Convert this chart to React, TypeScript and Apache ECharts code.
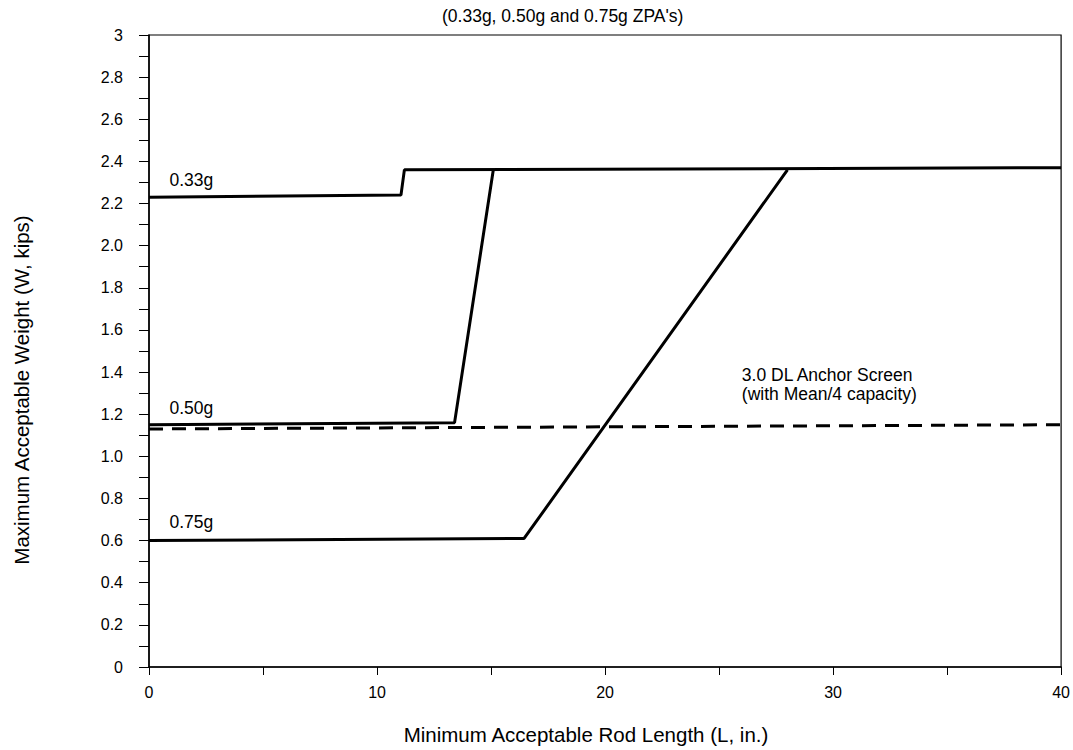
import React, { useEffect, useRef } from "react";
import * as echarts from "echarts";

const title = "(0.33g, 0.50g and 0.75g ZPA's)";
const xName = "Minimum Acceptable Rod Length (L, in.)";
const yName = "Maximum Acceptable Weight (W, kips)";

const x033 = [0, 11.05, 11.2, 40];
const y033 = [2.23, 2.24, 2.36, 2.37];
const x050 = [0, 13.4, 15.1];
const y050 = [1.15, 1.16, 2.36];
const x075 = [0, 16.45, 28.0];
const y075 = [0.6, 0.61, 2.36];
const xAnchor = [0, 40];
const yAnchor = [1.13, 1.15];

const yTickLabels: Record<string, string> = {
  "0": "0", "0.2": "0.2", "0.4": "0.4", "0.6": "0.6", "0.8": "0.8", "1": "1.0",
  "1.2": "1.2", "1.4": "1.4", "1.6": "1.6", "1.8": "1.8", "2": "2.0", "2.2": "2.2",
  "2.4": "2.4", "2.6": "2.6", "2.8": "2.8", "3": "3",
};
const xTickLabels: Record<string, string> = { "0": "0", "10": "10", "20": "20", "30": "30", "40": "40" };

const FONT = "Liberation Sans, Arial, Helvetica, sans-serif";

function pts(xs: number[], ys: number[]) {
  return xs.map((x, i) => [x, ys[i]]);
}

function textMark(x: number, y: number, text: string) {
  return {
    coord: [x, y],
    value: text,
    symbolSize: 0,
    label: {
      show: true,
      position: "right",
      distance: 0,
      formatter: text,
      color: "#000",
      fontFamily: FONT,
      fontSize: 17.5,
      lineHeight: 19,
    },
  };
}

export default function App() {
  const ref = useRef<HTMLDivElement>(null);
  useEffect(() => {
    if (!ref.current) return;
    const chart = echarts.init(ref.current, undefined, { renderer: "svg" });
    const lineStyle = { color: "#000", width: 3, type: "solid" as const };
    chart.setOption({
      animation: false,
      backgroundColor: "#fff",
      grid: { left: 149, right: 10, top: 35, bottom: 83, show: true, borderColor: "#000", borderWidth: 1.2 },
      xAxis: {
        type: "value",
        min: 0,
        max: 40,
        interval: 5,
        axisLine: { show: true, lineStyle: { color: "#000", width: 1.5 } },
        axisTick: { show: true, length: 8, lineStyle: { color: "#000", width: 1 } },
        splitLine: { show: false },
        axisLabel: {
          margin: 17,
          color: "#000",
          fontFamily: FONT,
          fontSize: 16,
          formatter: (v: number) => xTickLabels[String(v)] ?? "",
        },
      },
      yAxis: {
        type: "value",
        min: 0,
        max: 3,
        interval: 0.1,
        axisLine: { show: true, lineStyle: { color: "#000", width: 1.5 } },
        axisTick: { show: true, length: 10, lineStyle: { color: "#000", width: 1 } },
        splitLine: { show: false },
        axisLabel: {
          margin: 26,
          color: "#000",
          fontFamily: FONT,
          fontSize: 16,
          formatter: (v: number) => yTickLabels[String(Math.round(v * 10) / 10)] ?? "",
        },
      },
      graphic: [
        {
          type: "text",
          x: 442,
          y: 16,
          style: { text: title, font: `17.5px ${FONT}`, fill: "#000", align: "left", verticalAlign: "middle" },
        },
        {
          type: "text",
          x: 586,
          y: 734,
          style: { text: xName, font: `20.5px ${FONT}`, fill: "#000", align: "center", verticalAlign: "middle" },
        },
        {
          type: "text",
          x: 21,
          y: 390,
          rotation: Math.PI / 2,
          style: { text: yName, font: `20.5px ${FONT}`, fill: "#000", align: "center", verticalAlign: "middle" },
        },
      ],
      series: [
        {
          type: "line",
          name: "0.33g",
          data: pts(x033, y033),
          symbol: "none",
          lineStyle,
          markPoint: { data: [textMark(0.9, 2.31, "0.33g")] },
        },
        {
          type: "line",
          name: "0.50g",
          data: pts(x050, y050),
          symbol: "none",
          lineStyle,
          markPoint: { data: [textMark(0.9, 1.23, "0.50g")] },
        },
        {
          type: "line",
          name: "0.75g",
          data: pts(x075, y075),
          symbol: "none",
          lineStyle,
          markPoint: { data: [textMark(0.9, 0.69, "0.75g")] },
        },
        {
          type: "line",
          name: "3.0 DL Anchor Screen",
          data: pts(xAnchor, yAnchor),
          symbol: "none",
          lineStyle: { color: "#000", width: 3, type: [14, 9] },
          markPoint: { data: [textMark(26.0, 1.34, "3.0 DL Anchor Screen\n(with Mean/4 capacity)")] },
        },
      ],
    });
    return () => chart.dispose();
  }, []);
  return <div ref={ref} style={{ width: 1073, height: 750, position: "absolute", left: 0, top: 0 }} />;
}
